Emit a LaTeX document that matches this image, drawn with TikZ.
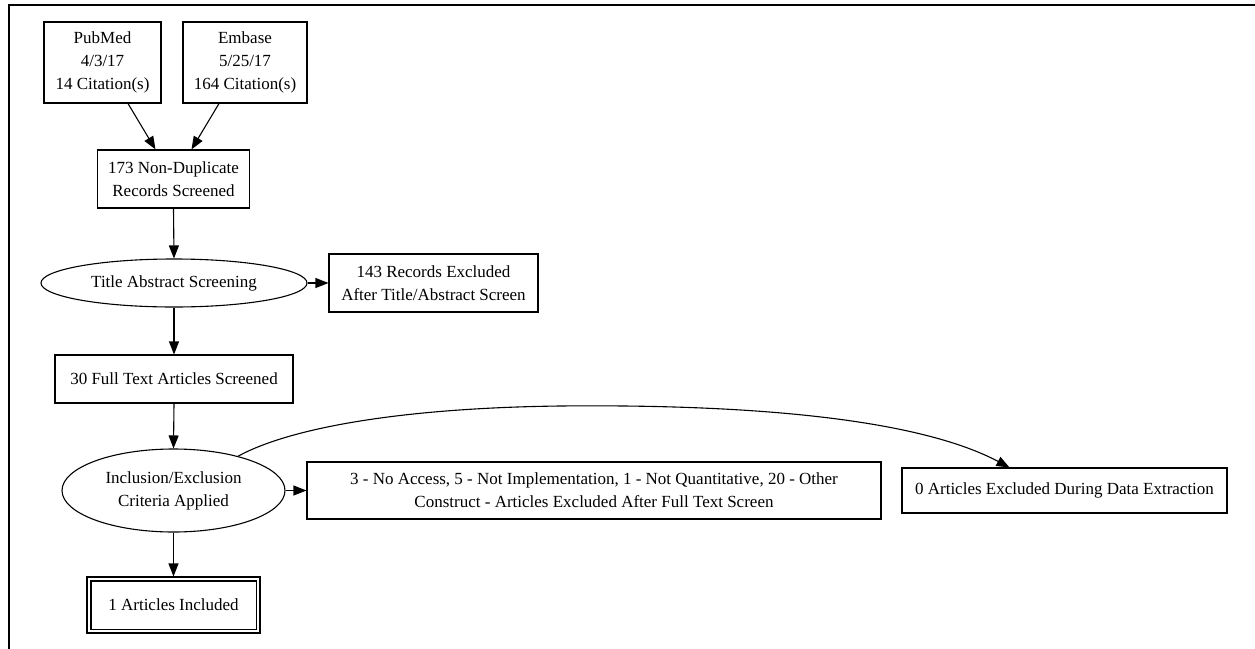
\documentclass[tikz,border=0pt]{standalone}
\usepackage{fontspec}
\setmainfont{Liberation Serif}
\usetikzlibrary{shapes.geometric,arrows.meta}
\begin{document}
\begin{tikzpicture}[x=1pt,y=-1pt,
  every node/.style={font=\fontsize{17}{23}\selectfont, inner sep=0pt, align=center},
  box/.style={draw, line width=1.1pt, rectangle},
  oval/.style={draw, line width=1.1pt, ellipse},
  arr/.style={line width=1.1pt, -{Triangle[length=13pt,width=10pt]}}]
\useasboundingbox (0,0) rectangle (1255,648);
\draw[line width=1.2pt] (9,660) -- (9,5) -- (1260,5);

\node[box, minimum width=117pt, minimum height=81pt] (pub) at (102.5,62.5) {PubMed\\4/3/17\\14 Citation(s)};
\node[box, minimum width=124pt, minimum height=81pt] (emb) at (245,62.5) {Embase\\5/25/17\\164 Citation(s)};
\node[box, minimum width=152pt, minimum height=58pt] (nd) at (173.5,179) {173 Non-Duplicate\\Records Screened};
\node[oval, minimum width=266pt, minimum height=48pt] (tas) at (174,283) {Title Abstract Screening};
\node[box, minimum width=209pt, minimum height=58pt] (rex) at (433.5,283) {143 Records Excluded\\After Title/Abstract Screen};
\node[box, minimum width=238pt, minimum height=48pt] (ft) at (174,379) {30 Full Text Articles Screened};
\node[oval, minimum width=223pt, minimum height=83pt] (iec) at (173.5,490.5) {Inclusion/Exclusion\\Criteria Applied};
\node[box, minimum width=574pt, minimum height=57pt] (fex) at (594,490.5) {3 - No Access, 5 - Not Implementation, 1 - Not Quantitative, 20 - Other\\Construct - Articles Excluded After Full Text Screen};
\node[box, minimum width=325pt, minimum height=45pt] (dex) at (1064.5,490.5) {0 Articles Excluded During Data Extraction};
\node[box, minimum width=173pt, minimum height=56pt] (inc) at (173.5,605) {1 Articles Included};
\draw[line width=1.1pt] ([shift={(4.5pt,-4.5pt)}]inc.north west) rectangle ([shift={(-4.5pt,4.5pt)}]inc.south east);

\draw[arr] ([xshift=25.5pt]pub.south) -- ([xshift=-18pt]nd.north);
\draw[arr] ([xshift=-26pt]emb.south) -- ([xshift=18pt]nd.north);
\draw[arr] (nd.south) -- (tas.north);
\draw[arr] (tas.east) -- (rex.west);
\draw[arr] (tas.south) -- (ft.north);
\draw[arr] (ft.south) -- (iec.north);
\draw[arr] (iec.east) -- (fex.west);
\draw[arr] (iec.south) -- (inc.north);
\draw[arr] (iec.28) .. controls (290,428) and (400,408) .. (560,406)
  .. controls (760,404) and (920,420) .. ([xshift=-55pt]dex.north);
\end{tikzpicture}
\end{document}
